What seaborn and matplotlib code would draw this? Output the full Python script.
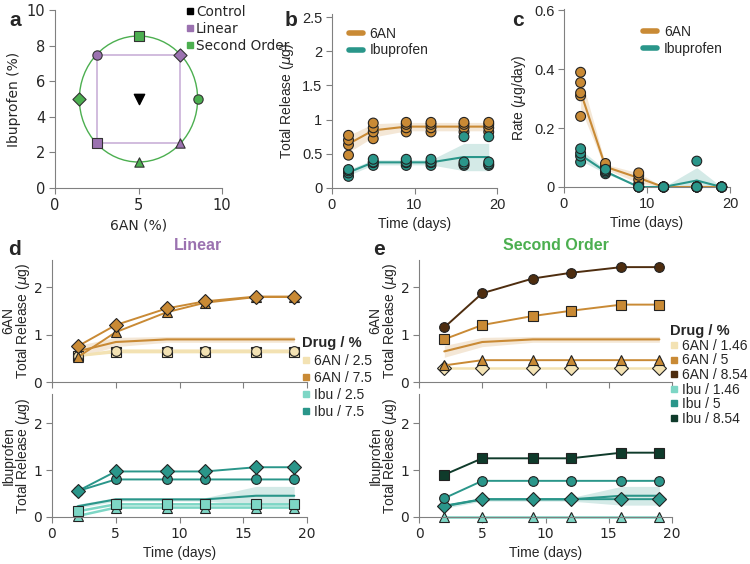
import pandas as pd
import matplotlib.pyplot as plt
import seaborn as sns
from matplotlib.lines import Line2D
from matplotlib.patches import Circle
from matplotlib.ticker import FuncFormatter

sns.set_style("ticks")
plt.rcParams['font.family'] = ['Liberation Sans', 'DejaVu Sans']
plt.rcParams['mathtext.fontset'] = 'dejavusans'

# ---- data ----
days = [2, 5, 9, 12, 16, 19]

# design points (6AN %, Ibuprofen %)
ctrl_point = (5, 5)
lin_6an_pct = [2.5, 7.5, 2.5, 7.5]
lin_ibu_pct = [7.5, 7.5, 2.5, 2.5]
lin_markers = ['o', 'D', 's', '^']
sec_6an_pct = [5, 8.54, 1.46, 5]
sec_ibu_pct = [8.54, 5, 5, 1.46]
sec_markers = ['s', 'o', 'D', '^']

# control replicates, one list per day
ctrl_6an_release = [[0.48, 0.63, 0.70, 0.77], [0.72, 0.82, 0.88, 0.95],
                    [0.82, 0.88, 0.93, 0.96], [0.82, 0.88, 0.93, 0.96],
                    [0.82, 0.88, 0.93, 0.96], [0.82, 0.88, 0.93, 0.96]]
ctrl_ibu_release = [[0.17, 0.22, 0.25, 0.27], [0.33, 0.37, 0.38, 0.42],
                    [0.33, 0.37, 0.38, 0.42], [0.33, 0.37, 0.38, 0.42],
                    [0.33, 0.35, 0.38, 0.75], [0.33, 0.35, 0.38, 0.75]]
ctrl_6an_rate = [[0.24, 0.31, 0.32, 0.355, 0.39], [0.06, 0.065, 0.07, 0.08],
                 [0.01, 0.025, 0.04, 0.048], [0, 0, 0, 0], [0, 0, 0, 0], [0, 0, 0, 0]]
ctrl_ibu_rate = [[0.085, 0.105, 0.115, 0.13], [0.045, 0.05, 0.055, 0.06],
                 [0, 0, 0, 0], [0, 0, 0, 0], [0, 0, 0, 0.088], [0, 0, 0, 0]]

# linear design release (order matches lin_markers)
lin_6an_o = [0.55, 0.66, 0.66, 0.66, 0.66, 0.66]
lin_6an_D = [0.75, 1.20, 1.55, 1.70, 1.80, 1.80]
lin_6an_s = [0.55, 0.63, 0.63, 0.63, 0.63, 0.63]
lin_6an_t = [0.52, 1.05, 1.47, 1.67, 1.79, 1.79]
lin_ibu_o = [0.55, 0.80, 0.80, 0.80, 0.80, 0.80]
lin_ibu_D = [0.55, 0.97, 0.97, 0.97, 1.06, 1.06]
lin_ibu_s = [0.12, 0.27, 0.27, 0.27, 0.27, 0.27]
lin_ibu_t = [0.02, 0.20, 0.20, 0.20, 0.20, 0.20]

# second order design release (order matches sec_markers)
sec_6an_s = [0.90, 1.20, 1.39, 1.50, 1.63, 1.63]
sec_6an_o = [1.15, 1.87, 2.18, 2.30, 2.42, 2.42]
sec_6an_D = [0.30, 0.30, 0.30, 0.30, 0.30, 0.30]
sec_6an_t = [0.35, 0.46, 0.46, 0.46, 0.46, 0.46]
sec_ibu_s = [0.90, 1.25, 1.25, 1.25, 1.37, 1.37]
sec_ibu_o = [0.40, 0.77, 0.77, 0.77, 0.77, 0.77]
sec_ibu_D = [0.24, 0.38, 0.38, 0.38, 0.38, 0.38]
sec_ibu_t = [0.00, 0.00, 0.00, 0.00, 0.00, 0.00]

# colours
c_6an = '#c98a35'
c_ibu = '#2a968a'
c_6an_lo, c_6an_hi = '#f3e2b3', '#4e2d0f'
c_ibu_lo, c_ibu_hi = '#7dd6c5', '#0f3b2b'
c_lin, c_sec = '#9b72b0', '#4caf50'
grey = '#808080'


def long_df(reps, drug):
    rows = [(d, v, drug) for d, vals in zip(days, reps) for v in vals]
    return pd.DataFrame(rows, columns=['day', 'val', 'drug'])


release = pd.concat([long_df(ctrl_6an_release, '6AN'), long_df(ctrl_ibu_release, 'Ibuprofen')])
rate = pd.concat([long_df(ctrl_6an_rate, '6AN'), long_df(ctrl_ibu_rate, 'Ibuprofen')])
pal = {'6AN': c_6an, 'Ibuprofen': c_ibu}

W, H = 750, 564
fig = plt.figure(figsize=(7.5, 5.64), dpi=100)


def pos(l, t, r, b):
    return [l / W, 1 - b / H, (r - l) / W, (b - t) / H]


def style(ax, size=10, family=None):
    sns.despine(ax=ax)
    ax.patch.set_alpha(0)
    for s in ['left', 'bottom']:
        ax.spines[s].set_color(grey)
    ax.tick_params(color=grey, length=4, labelsize=size, pad=3)
    ax.xaxis.set_major_formatter(FuncFormatter(lambda v, p: f'{v:g}'))
    ax.yaxis.set_major_formatter(FuncFormatter(lambda v, p: f'{v:g}'))
    if family:
        for t in ax.get_xticklabels() + ax.get_yticklabels():
            t.set_family(family)


# ---- panel a ----
ax = fig.add_axes(pos(55, 10, 222, 188))
r = ((sec_6an_pct[0] - ctrl_point[0]) ** 2 + (sec_ibu_pct[0] - ctrl_point[1]) ** 2) ** 0.5
ax.add_patch(Circle(ctrl_point, r, fill=False, color=c_sec, lw=1))
sq = [0, 1, 3, 2, 0]
ax.plot([lin_6an_pct[i] for i in sq], [lin_ibu_pct[i] for i in sq], color='#c9b0d8', lw=1.2)
for x, y, m in zip(lin_6an_pct, lin_ibu_pct, lin_markers):
    ax.scatter(x, y, marker=m, s=45, color=c_lin, edgecolor='#333333', lw=0.8, zorder=3)
for x, y, m in zip(sec_6an_pct, sec_ibu_pct, sec_markers):
    ax.scatter(x, y, marker=m, s=45, color=c_sec, edgecolor='#333333', lw=0.8, zorder=3)
ax.scatter(*ctrl_point, marker='v', s=55, color='black', zorder=3)
ax.set_xlim(0, 10)
ax.set_ylim(0, 10)
ax.set_xticks([0, 5, 10])
ax.set_yticks([0, 2, 4, 6, 8, 10])
style(ax, 10.5, 'DejaVu Sans')
ax.set_xlabel('6AN (%)', family='DejaVu Sans', fontsize=10)
ax.set_ylabel('Ibuprofen (%)', family='DejaVu Sans', fontsize=10)
hs = [Line2D([], [], marker='s', ls='', color=c, markersize=4) for c in ['black', c_lin, c_sec]]
ax.legend(hs, ['Control', 'Linear', 'Second Order'], loc='upper left', bbox_to_anchor=(0.75, 1.065),
          frameon=False, handlelength=0.4, handletextpad=0.25, labelspacing=0.22, borderpad=0,
          prop={'family': 'DejaVu Sans', 'size': 9.8})

# ---- panel b ----
ax = fig.add_axes(pos(332, 13.6, 497, 188))
sns.lineplot(data=release, x='day', y='val', hue='drug', palette=pal, errorbar='sd',
             err_kws={'alpha': 0.2, 'lw': 0}, lw=1.5, legend=False, ax=ax)
sns.scatterplot(data=release, x='day', y='val', hue='drug', palette=pal, s=50,
                edgecolor='#222222', linewidth=0.8, legend=False, ax=ax, zorder=3, clip_on=False)
ax.set_xlim(0, 20)
ax.set_ylim(0, 2.55)
ax.set_xticks([0, 10, 20])
ax.set_yticks([0, 0.5, 1, 1.5, 2, 2.5])
style(ax, 10.5)
ax.set_xlabel('Time (days)', fontsize=10)
ax.set_ylabel(r'Total Release ($\mu$g)', fontsize=10)
hs = [Line2D([], [], color=c, lw=4) for c in [c_6an, c_ibu]]
ax.legend(hs, ['6AN', 'Ibuprofen'], loc='upper left', bbox_to_anchor=(0.06, 0.965), frameon=False,
          handlelength=1.0, handletextpad=0.5, labelspacing=0.2, borderpad=0, fontsize=10)

# ---- panel c ----
ax = fig.add_axes(pos(564, 9, 730, 187))
sns.lineplot(data=rate, x='day', y='val', hue='drug', palette=pal, errorbar='sd',
             err_kws={'alpha': 0.2, 'lw': 0}, lw=1.5, legend=False, ax=ax)
sns.scatterplot(data=rate, x='day', y='val', hue='drug', palette=pal, s=50,
                edgecolor='#222222', linewidth=0.8, legend=False, ax=ax, zorder=3, clip_on=False)
ax.set_xlim(0, 20)
ax.set_ylim(0, 0.605)
ax.set_xticks([0, 10, 20])
ax.set_yticks([0, 0.2, 0.4, 0.6])
style(ax, 10.5)
ax.set_xlabel('Time (days)', fontsize=10)
ax.set_ylabel(r'Rate ($\mu$g/day)', fontsize=10)
ax.legend(hs, ['6AN', 'Ibuprofen'], loc='upper right', bbox_to_anchor=(1.0, 0.95), frameon=False,
          handlelength=1.0, handletextpad=0.5, labelspacing=0.2, borderpad=0, fontsize=10)


# ---- panels d / e ----
def release_panel(l, r, ctrl_df, ctrl_color, series, top):
    ax = fig.add_axes(pos(l, 260, r, 382) if top else pos(l, 394, r, 517))
    ax.set_zorder(3 if top else 2)
    sns.lineplot(data=ctrl_df, x='day', y='val', color=ctrl_color, errorbar='sd',
                 err_kws={'alpha': 0.2, 'lw': 0}, lw=1.5, ax=ax)
    for vals, m, c in series:
        sns.lineplot(x=days, y=vals, color=c, marker=m, markersize=7, markeredgecolor='#222222',
                     markeredgewidth=0.8, lw=1.8 if c in (c_6an_lo, c_ibu_lo) else 1.4,
                     clip_on=False, ax=ax)
    ax.set_xlim(0, 20)
    ax.set_ylim(0, 2.57 if top else 2.62)
    ax.set_xticks([0, 5, 10, 15, 20])
    ax.set_yticks([0, 1, 2])
    style(ax, 10, 'DejaVu Sans')
    if top:
        ax.set_xticklabels([])
        ax.set_xlabel('')
        ax.set_ylabel('6AN\n' + r'Total Release ($\mu$g)', fontsize=10, linespacing=0.9, labelpad=1)
    else:
        ax.set_xlabel('Time (days)', fontsize=10)
        ax.set_ylabel('Ibuprofen\n' + r'Total Release ($\mu$g)', fontsize=10, linespacing=0.9, labelpad=1)
    return ax


ctrl6 = long_df(ctrl_6an_release, '6AN')
ctrli = long_df(ctrl_ibu_release, 'Ibuprofen')

ax_d = release_panel(52, 307, ctrl6, c_6an,
                     [(lin_6an_s, 's', c_6an_lo), (lin_6an_o, 'o', c_6an_lo),
                      (lin_6an_t, '^', c_6an), (lin_6an_D, 'D', c_6an)], True)
release_panel(52, 307, ctrli, c_ibu,
              [(lin_ibu_t, '^', c_ibu_lo), (lin_ibu_s, 's', c_ibu_lo),
               (lin_ibu_o, 'o', c_ibu), (lin_ibu_D, 'D', c_ibu)], False)
ax_e = release_panel(419, 672, ctrl6, c_6an,
                     [(sec_6an_D, 'D', c_6an_lo), (sec_6an_t, '^', c_6an),
                      (sec_6an_s, 's', c_6an), (sec_6an_o, 'o', c_6an_hi)], True)
release_panel(419, 672, ctrli, c_ibu,
              [(sec_ibu_t, '^', c_ibu_lo), (sec_ibu_D, 'D', c_ibu),
               (sec_ibu_o, 'o', c_ibu), (sec_ibu_s, 's', c_ibu_hi)], False)

leg_kw = dict(loc='upper left', frameon=False, handlelength=0.5, handletextpad=0.35,
              borderpad=0, fontsize=10, title_fontproperties={'weight': 'bold', 'size': 10.5})
hs = [Line2D([], [], marker='s', ls='', color=c, markersize=5) for c in [c_6an_lo, c_6an, c_ibu_lo, c_ibu]]
lg = ax_d.legend(hs, ['6AN / 2.5', '6AN / 7.5', 'Ibu / 2.5', 'Ibu / 7.5'], title='Drug / %',
                 bbox_to_anchor=(0.955, 0.43), labelspacing=0.22, **leg_kw)
lg._legend_box.align = 'left'
hs = [Line2D([], [], marker='s', ls='', color=c, markersize=5)
      for c in [c_6an_lo, c_6an, c_6an_hi, c_ibu_lo, c_ibu, c_ibu_hi]]
lg = ax_e.legend(hs, ['6AN / 1.46', '6AN / 5', '6AN / 8.54', 'Ibu / 1.46', 'Ibu / 5', 'Ibu / 8.54'],
                 title='Drug / %', bbox_to_anchor=(0.965, 0.53), labelspacing=0.04, **leg_kw)
lg._legend_box.align = 'left'

# titles and panel letters
fig.text(198 / W, 1 - 245 / H, 'Linear', color=c_lin, fontsize=11.5, weight='bold', ha='center', va='center')
fig.text(556 / W, 1 - 245 / H, 'Second Order', color=c_sec, fontsize=11.5, weight='bold', ha='center', va='center')
for lab, x, y in [('a', 15, 20), ('b', 291, 20), ('c', 518, 21), ('d', 14, 250), ('e', 379, 250)]:
    fig.text(x / W, 1 - y / H, lab, fontsize=15, weight='bold', ha='center', va='center')

fig.savefig('out.png', dpi=100)
